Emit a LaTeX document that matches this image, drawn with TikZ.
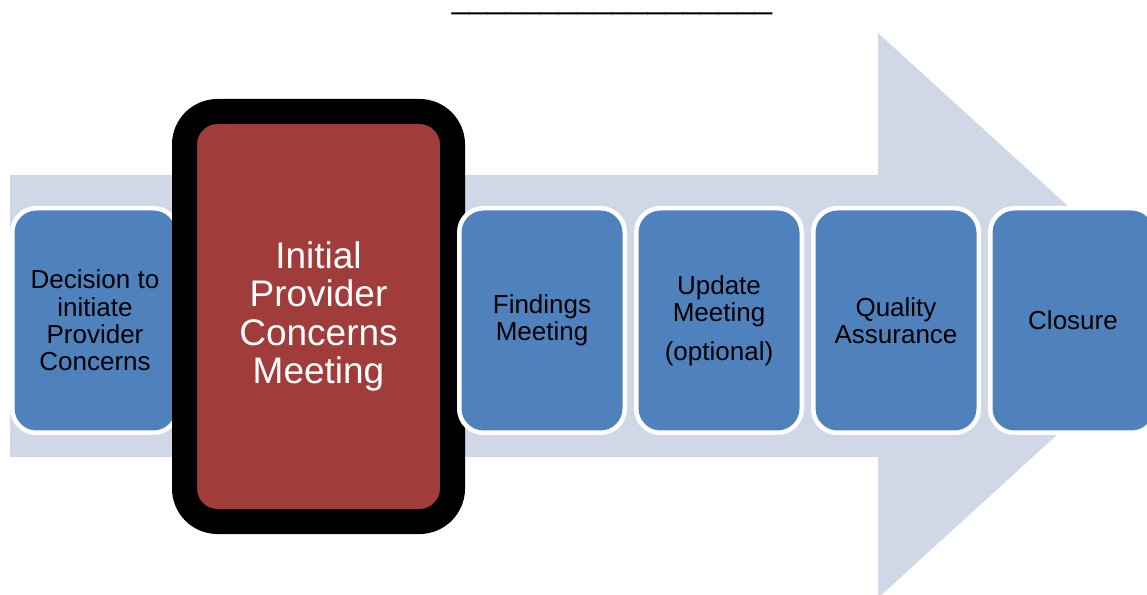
\documentclass[tikz,border=0pt]{standalone}
\usepackage{fontspec}
\setmainfont{Liberation Sans}
\usetikzlibrary {positioning}

\definecolor{arrowgrey}{RGB}{208,216,232}
\definecolor{stepblue}{RGB}{79,129,189}
\definecolor{stepred}{RGB}{160,61,59}

\begin{document}
\begin{tikzpicture}[
    x=1pt,
    y=1pt,
    node distance=177pt,
    on grid,
    stepbox/.style={
        draw=white, line width=4.5pt, fill=stepblue,
        rounded corners=24pt,
        minimum width=165.5pt, minimum height=224.5pt,
        align=center, text=black,
        font=\fontsize{26}{27.3}\selectfont
    },
    focusbox/.style={
        draw=black, line width=25pt, fill=stepred,
        rounded corners=33pt,
        minimum width=268pt, minimum height=410pt,
        align=center, text=white,
        font=\fontsize{37}{38.3}\selectfont
    },
]
    \useasboundingbox (0,0) rectangle (1147,594);

    % big background arrow
    \begin{scope}
        \clip (0,0) rectangle (1147,594);
        \fill[arrowgrey] (10,419) -- (878,419) -- (878,561) -- (1188,278.5)
            -- (878,-4) -- (878,137) -- (10,137) -- cycle;
    \end{scope}

    \node[anchor=base, inner sep=0pt] (blank) at (612,585) {\fontsize{32}{34}\selectfont\_\_\_\_\_\_\_\_\_\_\_\_\_\_\_\_\_\_};

    \node[stepbox]                                 (decide)   at (95,273.5) {Decision to\\initiate\\Provider\\Concerns};
    \node[focusbox, right =223.5pt of decide,  yshift=4pt]  (initial)  {Initial\\Provider\\Concerns\\Meeting};
    \node[stepbox,  right =223.5pt of initial, yshift=-4pt] (findings) {Findings\\Meeting};
    \node[stepbox,  right =of findings]            (update)   {Update\\Meeting\\[11pt](optional)};
    \node[stepbox,  right =of update]              (quality)  {Quality\\Assurance};
    \node[stepbox,  right =of quality]             (closure)  {Closure};
\end{tikzpicture}
\end{document}
